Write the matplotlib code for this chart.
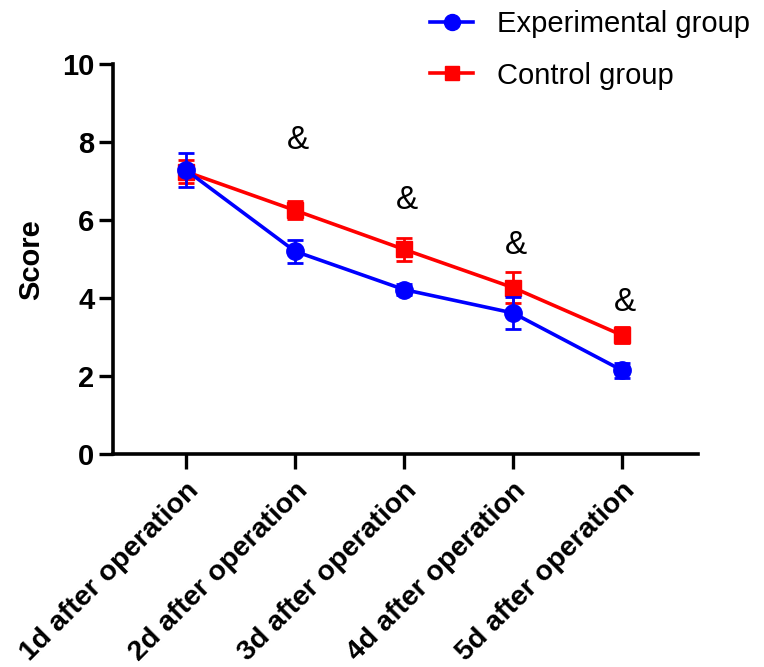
import matplotlib
matplotlib.use("Agg")
import matplotlib.pyplot as plt
from matplotlib.lines import Line2D

# data
days = ["1d after operation", "2d after operation", "3d after operation",
        "4d after operation", "5d after operation"]
exp_mean = [7.28, 5.2, 4.22, 3.62, 2.15]
exp_err = [0.43, 0.3, 0.15, 0.42, 0.19]
ctrl_mean = [7.24, 6.25, 5.25, 4.27, 3.05]
ctrl_err = [0.3, 0.23, 0.3, 0.4, 0.2]
sig_y = [None, 8.05, 6.5, 5.35, 3.9]
sig_mark = "&"

plt.rcParams['font.family'] = ['Liberation Sans', 'DejaVu Sans']

fig = plt.figure(figsize=(7.64, 6.67), dpi=100)
ax = fig.add_axes([0.148, 0.319, 0.766, 0.585])

x = list(range(len(days)))
lw = 2.6
ax.errorbar(x, ctrl_mean, yerr=ctrl_err, color='#ff0000', marker='s', markersize=11,
            linewidth=lw, elinewidth=2, capsize=5.5, capthick=2, zorder=3)
ax.errorbar(x, exp_mean, yerr=exp_err, color='#0000ff', marker='o', markersize=12.5,
            linewidth=lw, elinewidth=2, capsize=5.5, capthick=2, zorder=4)

for xi, yi in zip(x, sig_y):
    if yi is not None:
        ax.text(xi + 0.03, yi, sig_mark, ha='center', va='center', fontsize=24)

ax.set_xlim(-0.67, 4.7)
ax.set_ylim(0, 10)
ax.set_yticks([0, 2, 4, 6, 8, 10])
ax.set_xticks(x)
ax.set_xticklabels(days, rotation=45, ha='right', rotation_mode='anchor',
                   fontsize=20.5, fontweight='bold')
ax.tick_params(axis='y', labelsize=21, width=2.4, length=10)
ax.tick_params(axis='x', width=2.4, length=11, pad=6)
for lab in ax.get_yticklabels():
    lab.set_fontweight('bold')
ax.set_ylabel('Score', fontsize=21, fontweight='bold', labelpad=12)

for side in ['top', 'right']:
    ax.spines[side].set_visible(False)
for side in ['left', 'bottom']:
    ax.spines[side].set_linewidth(2.6)

handles = [
    Line2D([], [], color='#0000ff', marker='o', markersize=11.5, linewidth=lw),
    Line2D([], [], color='#ff0000', marker='s', markersize=10.5, linewidth=lw),
]
fig.legend(handles, ["Experimental group", "Control group"], loc='upper left',
           bbox_to_anchor=(0.528, 1.024), frameon=False, fontsize=21,
           handlelength=1.5, handletextpad=0.8, labelspacing=0.8)

fig.savefig('out.png', dpi=100)
